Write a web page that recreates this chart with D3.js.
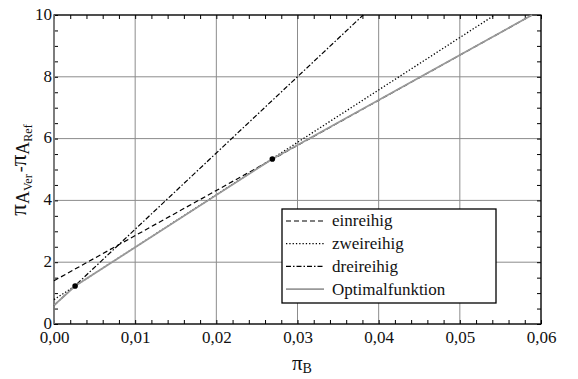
<!DOCTYPE html>
<html>
<head>
<meta charset="utf-8">
<script src="https://cdn.jsdelivr.net/npm/d3@7"></script>
<style>
  body { margin: 0; background: #fff; }
  svg { display: block; }
  svg text { font-family: "Liberation Serif", "Times New Roman", "DejaVu Serif", serif; }
</style>
</head>
<body>
<div id="chart"></div>
<script>
// values
const xTicks = [0, 0.01, 0.02, 0.03, 0.04, 0.05, 0.06];
const yTicks = [0, 2, 4, 6, 8, 10];
const seriesNames = ["einreihig", "zweireihig", "dreireihig", "Optimalfunktion"];
const einreihig = [[0, 1.4], [0.0589, 10]];
const zweireihig = [[0, 0.79], [0.0543, 10]];
const dreireihig = [[0, 0.6], [0.0381, 10]];
const optimal = [[0, 0.6], [0.0026, 1.23], [0.0269, 5.34], [0.0589, 10]];
const switchPoints = [[0.0026, 1.23], [0.0269, 5.34]];

const width = 578, height = 379;
const margin = { top: 15, right: 37, bottom: 55, left: 54 };

const svg = d3.select("#chart").append("svg")
  .attr("width", width)
  .attr("height", height);

const x = d3.scaleLinear().domain([0, 0.06]).range([margin.left, width - margin.right]);
const y = d3.scaleLinear().domain([0, 10]).range([height - margin.bottom, margin.top]);

const de = d3.formatLocale({ decimal: ",", thousands: ".", grouping: [3], currency: ["", "€"] });
const fmtX = de.format(".2f");

const gridColor = "#8c8c8c";

// grid
svg.append("g").selectAll("line").data(xTicks).join("line")
  .attr("x1", d => x(d)).attr("x2", d => x(d))
  .attr("y1", y(0)).attr("y2", y(10))
  .attr("stroke", gridColor).attr("stroke-width", 1);
svg.append("g").selectAll("line").data(yTicks).join("line")
  .attr("x1", x(0)).attr("x2", x(0.06))
  .attr("y1", d => y(d)).attr("y2", d => y(d))
  .attr("stroke", gridColor).attr("stroke-width", 1);

// axes: ticks pointing inward
const minorX = d3.range(0, 0.0601, 0.002);
const minorY = d3.range(0, 10.01, 0.5);
function styleAxis(g) {
  g.select(".domain").remove();
  g.attr("font-family", null);
  g.selectAll(".tick line").attr("stroke", "#000");
  g.selectAll(".tick text").attr("font-size", 17).attr("fill", "#111");
}
svg.append("g").attr("transform", `translate(0,${y(0)})`)
  .call(d3.axisBottom(x).tickValues(minorX).tickSize(-4).tickFormat(""))
  .call(styleAxis);
svg.append("g").attr("transform", `translate(0,${y(10)})`)
  .call(d3.axisTop(x).tickValues(minorX).tickSize(-4).tickFormat(""))
  .call(styleAxis);
svg.append("g").attr("transform", `translate(${x(0)},0)`)
  .call(d3.axisLeft(y).tickValues(minorY).tickSize(-4).tickFormat(""))
  .call(styleAxis);
svg.append("g").attr("transform", `translate(${x(0.06)},0)`)
  .call(d3.axisRight(y).tickValues(minorY).tickSize(-4).tickFormat(""))
  .call(styleAxis);

svg.append("g").attr("transform", `translate(0,${y(0)})`)
  .call(d3.axisBottom(x).tickValues(xTicks).tickSize(0).tickPadding(5).tickFormat(fmtX))
  .call(styleAxis)
  .selectAll(".tick text").attr("dy", "0.85em");
svg.append("g").attr("transform", `translate(${x(0)},0)`)
  .call(d3.axisLeft(y).tickValues(yTicks).tickSize(0).tickPadding(2).tickFormat(d3.format("d")))
  .call(styleAxis)
  .selectAll(".tick text").attr("dy", "0.25em");

// frame
svg.append("rect")
  .attr("x", x(0)).attr("y", y(10))
  .attr("width", x(0.06) - x(0)).attr("height", y(0) - y(10))
  .attr("fill", "none").attr("stroke", "#000").attr("stroke-width", 1.2);
svg.append("line")
  .attr("x1", x(0)).attr("x2", x(0)).attr("y1", y(0)).attr("y2", y(10))
  .attr("stroke", gridColor).attr("stroke-width", 1.5);

// series
const line = d3.line().x(d => x(d[0])).y(d => y(d[1]));
const styles = {
  einreihig: { data: einreihig, stroke: "#000", width: 1.2, dash: "5,3" },
  zweireihig: { data: zweireihig, stroke: "#000", width: 1.3, dash: "1.3,2" },
  dreireihig: { data: dreireihig, stroke: "#000", width: 1.2, dash: "5,2,1.5,2" },
  Optimalfunktion: { data: optimal, stroke: "#999", width: 1.8, dash: null }
};
svg.append("g").selectAll("path").data(seriesNames).join("path")
  .attr("d", d => line(styles[d].data))
  .attr("fill", "none")
  .attr("stroke", d => styles[d].stroke)
  .attr("stroke-width", d => styles[d].width)
  .attr("stroke-dasharray", d => styles[d].dash);

svg.append("g").selectAll("circle").data(switchPoints).join("circle")
  .attr("cx", d => x(d[0])).attr("cy", d => y(d[1]))
  .attr("r", 2.8).attr("fill", "#000");

// legend
const lg = svg.append("g").attr("transform", "translate(282,209)");
lg.append("rect").attr("width", 214).attr("height", 94)
  .attr("fill", "#fff").attr("stroke", "#000").attr("stroke-width", 1.3);
const rows = lg.selectAll("g").data(seriesNames).join("g")
  .attr("transform", (d, i) => `translate(0,${12 + i * 22.7})`);
rows.append("line")
  .attr("x1", 4).attr("x2", 42)
  .attr("stroke", d => styles[d].stroke)
  .attr("stroke-width", d => styles[d].width)
  .attr("stroke-dasharray", d => styles[d].dash);
rows.append("text")
  .attr("x", 50).attr("dy", "0.32em")
  .attr("font-size", 17).attr("fill", "#111")
  .text(d => d);

// axis titles
const xl = svg.append("text")
  .attr("x", 292).attr("y", 370)
  .attr("fill", "#111");
xl.append("tspan").attr("font-size", 21).text("π");
xl.append("tspan").attr("font-size", 14).attr("dy", 3).text("B");

const yl = svg.append("text")
  .attr("transform", "translate(26,170) rotate(-90)")
  .attr("text-anchor", "middle")
  .attr("fill", "#111");
yl.append("tspan").attr("font-size", 23).text("π");
yl.append("tspan").attr("font-size", 18).attr("dy", 3).text("A");
yl.append("tspan").attr("font-size", 12).attr("dy", 3).text("Ver");
yl.append("tspan").attr("font-size", 18).attr("dy", -6).attr("dx", 2).text("-");
yl.append("tspan").attr("font-size", 23).text("π");
yl.append("tspan").attr("font-size", 18).attr("dy", 3).text("A");
yl.append("tspan").attr("font-size", 12).attr("dy", 3).text("Ref");
</script>
</body>
</html>
